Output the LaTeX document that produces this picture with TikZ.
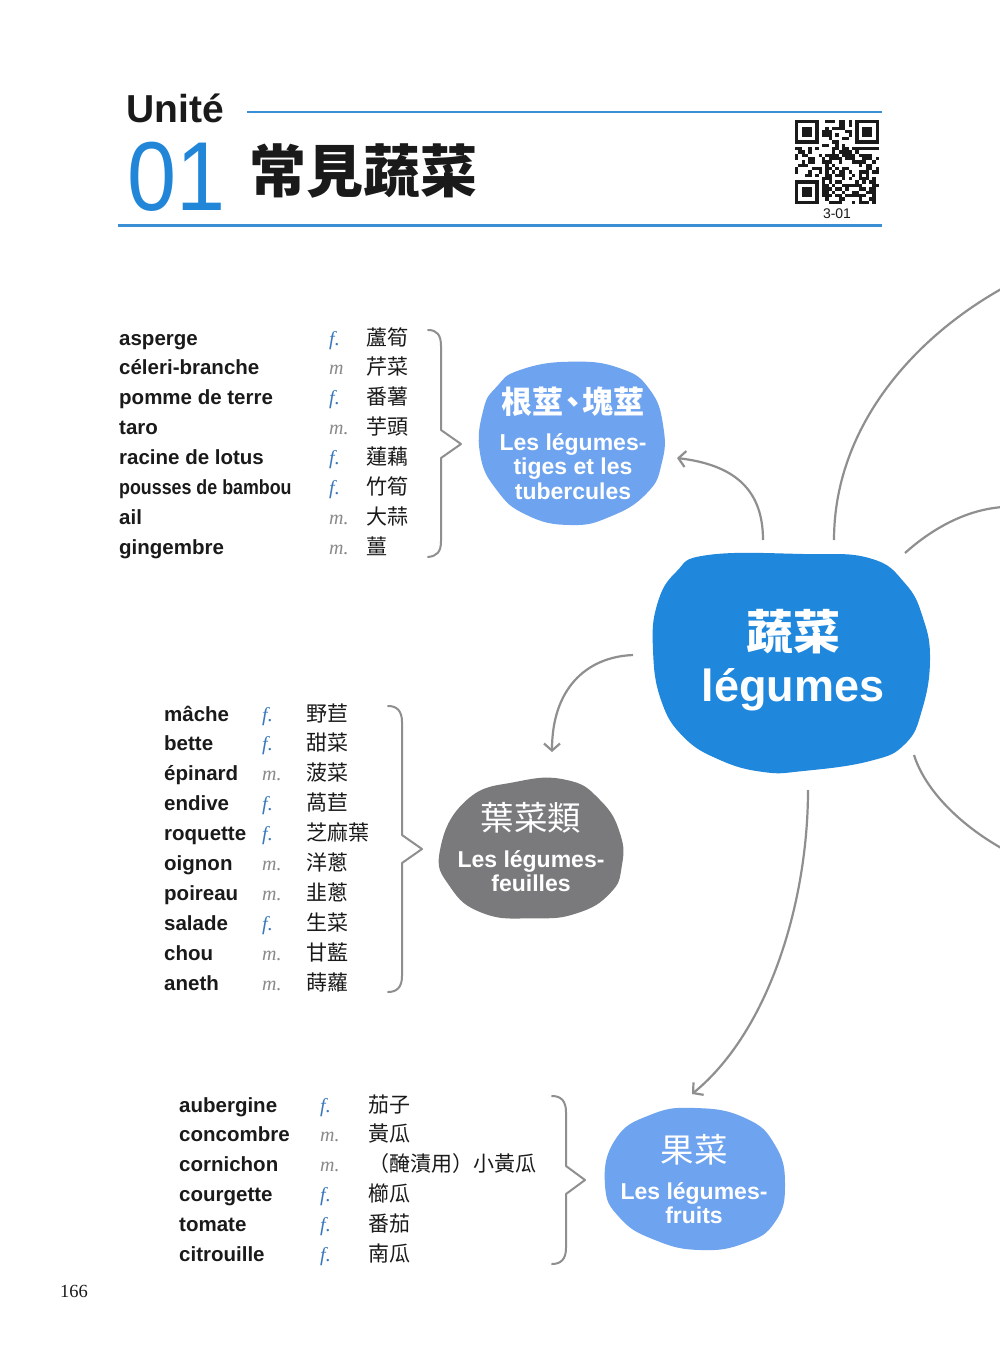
\documentclass[tikz,border=0pt]{standalone}
\usepackage{fontspec}
\usepackage{graphicx}
\setmainfont{Liberation Sans}
\newfontfamily\lsans{Liberation Sans}
\newfontfamily\lserif{Liberation Serif}
\newfontfamily\cjk{Noto Sans CJK TC}
\usetikzlibrary{arrows.meta}
\definecolor{mainblue}{HTML}{1F87DC}
\definecolor{lightblue}{HTML}{6EA3EF}
\definecolor{blobgray}{HTML}{7A7A7C}
\definecolor{linegray}{HTML}{8F8F8F}
\definecolor{headblue}{HTML}{3B8FD5}
\definecolor{numblue}{HTML}{2186D8}
\definecolor{fblue}{HTML}{3978BD}
\definecolor{mgray}{HTML}{8A8A8A}
\definecolor{txt}{HTML}{1A1A1A}
\begin{document}
\begin{tikzpicture}[x=1pt,y=-1pt,
  wd/.style={anchor=base west,inner sep=0,font=\lsans\bfseries\fontsize{20.5}{24}\selectfont,text=txt},
  gen/.style={anchor=base west,inner sep=0,font=\lserif\itshape\fontsize{20}{24}\selectfont},
  zh/.style={anchor=base west,inner sep=0,font=\cjk\fontsize{21}{24}\selectfont,text=txt},
  bracestyle/.style={draw=linegray,line width=2pt,line join=round,line cap=round},
  conn/.style={draw=linegray,line width=2.2pt},
  arr/.style={conn,-{Straight Barb[length=7pt,width=16pt]}},
  blobtitle/.style={inner sep=0,text=white,font=\cjk\bfseries\fontsize{31}{34}\selectfont},
  blobtitlereg/.style={inner sep=0,text=white,font=\cjk\fontsize{33.5}{36}\selectfont},
  blobsub/.style={inner sep=0,text=white,align=center,font=\lsans\bfseries\fontsize{23}{24.5}\selectfont},
]
\useasboundingbox[fill=white] (0,0) rectangle (1000,1354);

% ---------- header ----------
\node[anchor=base west,inner sep=0,font=\lsans\bfseries\fontsize{39}{40}\selectfont,text=txt] (unite) at (126,122) {Unité};
\node[anchor=base west,inner sep=0,font=\lsans\fontsize{98}{100}\selectfont,text=numblue] (num) at (127,210) {\scalebox{0.9}[1]{01}};
\node[anchor=west,inner sep=0,font=\cjk\bfseries\fontsize{57}{60}\selectfont,text=txt] (ttl) at (249,171) {常見蔬菜};
\draw[headblue,line width=2.5pt] (247,112) -- (882,112);
\draw[headblue,line width=3pt] (118,225) -- (882,225);

% QR code
\def\qm{3.36}
\pgfmathsetseed{12}
\foreach \i in {0,...,24}{
  \foreach \j in {0,...,24}{
    \pgfmathtruncatemacro{\inf}{(\i<8)*(\j<8)+(\i>16)*(\j<8)+(\i<8)*(\j>16)}
    \pgfmathtruncatemacro{\bit}{rnd<0.5}
    \ifnum\inf=0 \ifnum\bit=1
      \fill[txt] (795+\i*\qm,120+\j*\qm) rectangle ++(\qm,\qm);
    \fi\fi
  }
}
\foreach \ox/\oy in {0/0,18/0,0/18}{
  \fill[txt] (795+\ox*\qm,120+\oy*\qm) rectangle ++(7*\qm,7*\qm);
  \fill[white] (795+\ox*\qm+\qm,120+\oy*\qm+\qm) rectangle ++(5*\qm,5*\qm);
  \fill[txt] (795+\ox*\qm+2*\qm,120+\oy*\qm+2*\qm) rectangle ++(3*\qm,3*\qm);
}
\node[inner sep=0,font=\lsans\fontsize{14}{16}\selectfont,text=txt] (qrl) at (837,214) {3-01};

% ---------- lists ----------
\foreach \w/\g/\s/\c [count=\i from 0] in {asperge/f./fblue/蘆筍, céleri-branche/m/mgray/芹菜, pomme de terre/f./fblue/番薯, taro/m./mgray/芋頭, racine de lotus/f./fblue/蓮藕, {\scalebox{0.87}[1]{pousses de bambou}}/f./fblue/竹筍, ail/m./mgray/大蒜, gingembre/m./mgray/薑}{
  \node[wd] (wa\i) at (119,345+\i*29.9) {\w};
  \node[gen,text=\s] (ga\i) at (329,345+\i*29.9) {\g};
  \node[zh] (za\i) at (366,345+\i*29.9) {\c};
}
\foreach \w/\g/\s/\c [count=\i from 0] in {mâche/f./fblue/野苣, bette/f./fblue/甜菜, épinard/m./mgray/菠菜, endive/f./fblue/萵苣, roquette/f./fblue/芝麻葉, oignon/m./mgray/洋蔥, poireau/m./mgray/韭蔥, salade/f./fblue/生菜, chou/m./mgray/甘藍, aneth/m./mgray/蒔蘿}{
  \node[wd] (wb\i) at (164,721+\i*29.9) {\w};
  \node[gen,text=\s] (gb\i) at (262,721+\i*29.9) {\g};
  \node[zh] (zb\i) at (306,721+\i*29.9) {\c};
}
\foreach \w/\g/\s/\c [count=\i from 0] in {aubergine/f./fblue/茄子, concombre/m./mgray/黃瓜, cornichon/m./mgray/（醃漬用）小黃瓜, courgette/f./fblue/櫛瓜, tomate/f./fblue/番茄, citrouille/f./fblue/南瓜}{
  \node[wd] (wc\i) at (179,1112+\i*29.8) {\w};
  \node[gen,text=\s] (gc\i) at (320,1112+\i*29.8) {\g};
  \node[zh] (zc\i) at (368,1112+\i*29.8) {\c};
}

% braces
\draw[bracestyle] (428,330) .. controls (437,330) and (441,335) .. (441,346) -- (441,430) -- (461,444) -- (441,458) -- (441,541) .. controls (441,552) and (437,556) .. (428,557);
\draw[bracestyle] (388,706) .. controls (397,706) and (402,711) .. (402,722) -- (402,835) -- (422,849) -- (402,863) -- (402,976) .. controls (402,987) and (397,992) .. (388,992);
\draw[bracestyle] (552,1096) .. controls (561,1096) and (566,1101) .. (566,1112) -- (566,1166) -- (585,1180) -- (566,1194) -- (566,1248) .. controls (566,1259) and (561,1264) .. (552,1264);

% ---------- blobs ----------
\fill[lightblue] plot[smooth cycle,tension=0.8] coordinates {(520,370) (570,361.7) (620,368.3) (650,390) (663.3,426.7) (661.7,463.3) (646.7,493.3) (610,516.7) (570,525) (526.7,515) (496.7,490) (480,453.3) (483.3,410) (496.7,386.7)};
\fill[mainblue] plot[smooth cycle,tension=0.75] coordinates {(708,555) (803.3,554) (870,558.3) (905,583.3) (923,618) (930,660) (922,710) (905,744) (870,761) (803.3,771) (763.3,772) (720,760) (683.3,736.7) (661,700) (653,650) (657,605) (676,572)};
\fill[blobgray] plot[smooth cycle,tension=0.8] coordinates {(440,850) (466.7,800) (516.7,781.7) (566.7,780) (600,800) (620,833.3) (621.7,866.7) (610,893.3) (576.7,913.3) (533.3,918.3) (483.3,913.3) (450,886.7)};
\fill[lightblue] plot[smooth cycle,tension=0.8] coordinates {(605,1185) (615,1140) (650,1115) (695,1108) (745,1118) (775,1145) (785,1185) (775,1222) (745,1243) (700,1250) (655,1240) (620,1218)};

\node[blobtitle] (tA) at (573,402) {根莖\makebox[0.6em][c]{、}塊莖};
\node[blobsub] (sA) at (573,466.5) {Les légumes-\\tiges et les\\tubercules};
\node[inner sep=0,text=white,font=\cjk\bfseries\fontsize{47}{50}\selectfont] (tM) at (793,632) {蔬菜};
\node[inner sep=0,text=white,font=\lsans\bfseries\fontsize{45}{50}\selectfont] (sM) at (793,690) {légumes};
\node[blobtitlereg] (tB) at (531,818) {葉菜類};
\node[blobsub] (sB) at (531,871) {Les légumes-\\feuilles};
\node[blobtitlereg] (tC) at (694,1150) {果菜};
\node[blobsub] (sC) at (694,1203) {Les légumes-\\fruits};

% ---------- connectors ----------
\coordinate (c1s) at (763,540); \coordinate (c1e) at (677,458);
\coordinate (c2s) at (633,655); \coordinate (c2e) at (552,752);
\coordinate (c3s) at (808,790); \coordinate (c3e) at (692,1094);
\coordinate (c4s) at (834,540); \coordinate (c4e) at (1003,288);
\coordinate (c5s) at (905,553); \coordinate (c5e) at (1003,507);
\coordinate (c6s) at (914,755); \coordinate (c6e) at (1003,849);
\draw[arr] (c1s) .. controls (763,490) and (735,465) .. (c1e);
\draw[arr] (c2s) .. controls (585,657) and (552,690) .. (c2e);
\draw[arr] (c3s) .. controls (808,900) and (770,1030) .. (c3e);
\draw[conn] (c4s) .. controls (834,430) and (910,340) .. (c4e);
\draw[conn] (c5s) .. controls (925,535) and (960,510) .. (c5e);
\draw[conn] (c6s) .. controls (925,790) and (960,825) .. (c6e);

% page number
\node[anchor=base west,inner sep=0,font=\lserif\fontsize{18.5}{20}\selectfont,text=txt] (page) at (60,1297) {166};
\end{tikzpicture}
\end{document}
